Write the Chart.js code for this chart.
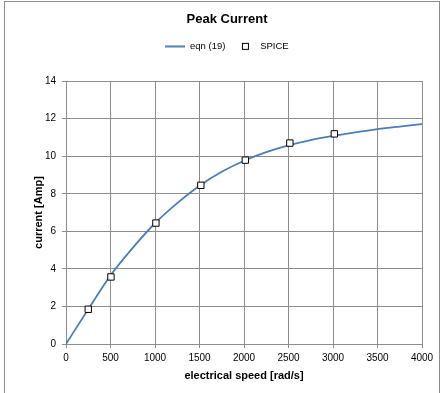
<!DOCTYPE html>
<html>
<head>
<meta charset="utf-8">
<script src="https://cdn.jsdelivr.net/npm/chart.js@4/dist/chart.umd.min.js"></script>
<style>
    html, body { margin: 0; padding: 0; background: #fff; }
    #wrap { position: relative; width: 447px; height: 393px; overflow: hidden; }
    #frame { position: absolute; left: 4px; top: 1px; width: 436px; height: 400px; border: 1px solid #8c8c8c; box-sizing: border-box; }
    canvas { position: absolute; left: 0; top: 0; }
</style>
</head>
<body>
<div id="wrap">
    <div id="frame"></div>
    <canvas id="peak-chart" width="447" height="393"></canvas>
</div>
<script>
// eqn (19), sampled every 250 rad/s
const eqnSpeed = [0, 250, 500, 750, 1000, 1250, 1500, 1750, 2000, 2250, 2500, 2750, 3000, 3250, 3500, 3750, 4000];
const eqnCurrent = [0, 1.85, 3.65, 5.12, 6.43, 7.5, 8.43, 9.17, 9.76, 10.22, 10.58, 10.86, 11.08, 11.27, 11.44, 11.58, 11.71];

// SPICE simulation results
const spiceSpeed = [250, 505, 1010, 1515, 2015, 2515, 3015];
const spiceCurrent = [1.85, 3.57, 6.44, 8.45, 9.79, 10.7, 11.19];

const xTicks = [0, 500, 1000, 1500, 2000, 2500, 3000, 3500, 4000];
const yTicks = [0, 2, 4, 6, 8, 10, 12, 14];

const gridColor = '#8c8c8c';
const lineBlue = '#4a7ebb';
const fontFamily = '"Liberation Sans", Arial, sans-serif';

// small canvases used as legend symbols
const makeSymbol = (w, h, draw) => {
    const c = document.createElement('canvas');
    c.width = w; c.height = h;
    draw(c.getContext('2d'));
    return c;
};
const lineSymbol = makeSymbol(20, 3, (g) => {
    g.strokeStyle = lineBlue; g.lineWidth = 2;
    g.beginPath(); g.moveTo(0, 1.5); g.lineTo(20, 1.5); g.stroke();
});
const squareSymbol = makeSymbol(9, 9, (g) => {
    g.fillStyle = '#fff'; g.fillRect(1, 1, 7, 7);
    g.strokeStyle = '#000'; g.lineWidth = 1; g.strokeRect(1.5, 1.5, 6, 6);
});
const symbols = [lineSymbol, squareSymbol];

// extra room between legend and plot
const legendGap = {
    id: 'legendGap',
    beforeInit(chart) {
        const fit = chart.legend.fit;
        chart.legend.fit = function () {
            fit.call(this);
            this.height += 20;
        };
    }
};

new Chart(document.getElementById('peak-chart'), {
    type: 'scatter',
    data: {
        datasets: [{
            label: 'eqn (19)',
            data: eqnSpeed.map((x, i) => ({ x, y: eqnCurrent[i] })),
            showLine: true,
            borderColor: lineBlue,
            borderWidth: 1.8,
            pointRadius: 0,
            cubicInterpolationMode: 'monotone',
            order: 2
        }, {
            label: 'SPICE',
            data: spiceSpeed.map((x, i) => ({ x, y: spiceCurrent[i] })),
            showLine: false,
            pointStyle: 'rect',
            pointRadius: 4.5,
            backgroundColor: '#fff',
            borderColor: '#000',
            borderWidth: 1,
            order: 1
        }]
    },
    options: {
        responsive: false,
        animation: false,
        layout: { padding: { left: 32, right: 25, top: 0, bottom: 0 } },
        plugins: {
            title: {
                display: true,
                text: 'Peak Current',
                color: '#000',
                font: { family: fontFamily, size: 13, weight: 'bold' },
                padding: { top: 12, bottom: 4 }
            },
            legend: {
                labels: {
                    usePointStyle: true,
                    pointStyleWidth: 20,
                    color: '#000',
                    padding: 10,
                    font: { family: fontFamily, size: 9.5 },
                    generateLabels(chart) {
                        const items = Chart.defaults.plugins.legend.labels.generateLabels(chart);
                        items.sort((a, b) => a.datasetIndex - b.datasetIndex);
                        items.forEach(it => { it.pointStyle = symbols[it.datasetIndex]; });
                        return items;
                    }
                }
            },
            tooltip: { enabled: false }
        },
        scales: {
            x: {
                type: 'linear',
                min: 0,
                max: 4000,
                afterBuildTicks: (s) => { s.ticks = xTicks.map(v => ({ value: v })); },
                afterFit: (s) => { s.height = 49; },
                grid: { color: gridColor, tickLength: 4, tickColor: gridColor },
                border: { color: gridColor },
                ticks: {
                    color: '#000', padding: 4, maxRotation: 0,
                    font: { family: fontFamily, size: 10 },
                    callback: (v) => String(v)
                },
                title: {
                    display: true,
                    text: 'electrical speed [rad/s]',
                    color: '#000',
                    font: { family: fontFamily, size: 11, weight: 'bold' },
                    padding: { top: 0, bottom: 10 }
                }
            },
            y: {
                min: 0,
                max: 14,
                afterBuildTicks: (s) => { s.ticks = yTicks.map(v => ({ value: v })); },
                afterFit: (s) => { s.width = 34; },
                grid: { color: gridColor, tickLength: 4, tickColor: gridColor },
                border: { color: gridColor },
                ticks: {
                    color: '#000', padding: 6,
                    font: { family: fontFamily, size: 10 },
                    callback: (v) => String(v)
                },
                title: {
                    display: true,
                    text: 'current [Amp]',
                    color: '#000',
                    font: { family: fontFamily, size: 11, weight: 'bold' },
                    padding: { top: 0, bottom: 0 }
                }
            }
        }
    },
    plugins: [legendGap]
});
</script>
</body>
</html>
